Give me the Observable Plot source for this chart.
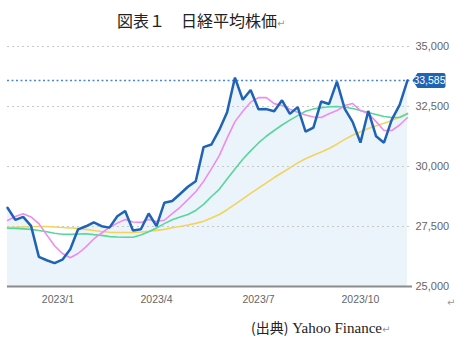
<!DOCTYPE html>
<html><head><meta charset="utf-8">
<script src="https://cdn.jsdelivr.net/npm/d3@7"></script>
<script src="https://cdn.jsdelivr.net/npm/@observablehq/plot@0.6"></script>
<style>
body{margin:0;background:#fff;width:461px;height:361px;position:relative;overflow:hidden}
#title{position:absolute;left:117px;top:11px;font:16px/18px "Noto Sans CJK JP";color:#222;white-space:nowrap}
.ret{color:#999;font-family:"DejaVu Sans";font-size:10px}
#chart{position:absolute;left:0;top:38px}
#ret2{position:absolute;left:447px;top:297px}
#cap{position:absolute;left:251px;top:318px;font:15px/18px "Liberation Serif","Noto Sans CJK JP";color:#222;white-space:nowrap}
#cap .cjk{font-family:"Noto Sans CJK JP";font-size:14px}
</style></head><body>
<div id="title">図表１　日経平均株価<span class="ret">↵</span></div>
<div id="chart"></div>
<span id="ret2" class="ret">↵</span>
<div id="cap"><span class="cjk">(出典)</span> Yahoo Finance<span class="ret">↵</span></div>
<script>
const dates = ["2022-11-25","2022-12-02","2022-12-09","2022-12-16","2022-12-23","2022-12-30",
"2023-01-06","2023-01-13","2023-01-20","2023-01-27","2023-02-03","2023-02-10","2023-02-17","2023-02-24",
"2023-03-03","2023-03-10","2023-03-17","2023-03-24","2023-03-31","2023-04-07","2023-04-14","2023-04-21","2023-04-28",
"2023-05-05","2023-05-12","2023-05-19","2023-05-26","2023-06-02","2023-06-09","2023-06-16","2023-06-23","2023-06-30",
"2023-07-07","2023-07-14","2023-07-21","2023-07-28","2023-08-04","2023-08-11","2023-08-18","2023-08-25",
"2023-09-01","2023-09-08","2023-09-15","2023-09-22","2023-09-29","2023-10-06","2023-10-13","2023-10-20","2023-10-27",
"2023-11-03","2023-11-10","2023-11-17"];
const close = [28283,27777,27901,27527,26235,26094,25973,26119,26553,27382,27509,27670,27513,27453,
27927,28143,27333,27385,28041,27518,28493,28564,28856,29157,29388,30808,30916,31524,32265,33706,32781,33189,
32388,32391,32304,32759,32192,32473,31450,31624,32710,32606,33533,32402,31858,30995,32315,31259,30991,
31950,32568,33585];
const maShort = [27750,27920,28030,27900,27620,27150,26700,26375,26200,26375,26650,26980,27230,27460,
27640,27790,27690,27670,27790,27710,27760,28040,28300,28620,28950,29380,29900,30450,31180,31870,32300,32680,
32870,32870,32620,32540,32390,32260,32150,32060,32040,32200,32330,32540,32625,32330,32210,31870,31500,
31500,31730,32040];
const maMid = [27430,27420,27400,27380,27330,27280,27220,27180,27170,27190,27200,27160,27130,27080,
27060,27050,27050,27150,27280,27440,27620,27780,27900,28000,28170,28420,28750,29050,29480,29900,30300,30650,
30980,31260,31500,31730,31930,32120,32300,32400,32450,32490,32500,32470,32420,32330,32250,32170,32080,
32040,32040,32200];
const maLong = [27460,27470,27480,27490,27500,27500,27480,27460,27440,27420,27380,27330,27290,27260,
27250,27250,27250,27270,27300,27340,27380,27450,27500,27560,27630,27720,27850,28000,28200,28420,28650,28880,
29100,29320,29540,29740,29940,30150,30320,30470,30600,30750,30930,31130,31300,31450,31580,31700,31800,
31920,32060,32220];
const xTickDates = ["2023-01-09","2023-04-07","2023-07-07","2023-10-06"];
const xTickLabels = ["2023/1","2023/4","2023/7","2023/10"];
const yTicks = [25000,27500,30000,32500,35000];
const yTickLabels = ["25,000","27,500","30,000","32,500","35,000"];

const rows = dates.map((d,i)=>({date:new Date(d), close:close[i], s:maShort[i], m:maMid[i], l:maLong[i]}));
const last = rows[rows.length-1];
const xt = xTickDates.map(d=>new Date(d));
const tag = {draw(ctx){ctx.moveTo(0,0);ctx.lineTo(5,-7.5);ctx.lineTo(31,-7.5);ctx.arcTo(33,-7.5,33,-5.5,2);ctx.lineTo(33,5.5);ctx.arcTo(33,7.5,31,7.5,2);ctx.lineTo(5,7.5);ctx.closePath();}};

const chart = Plot.plot({
  width:461, height:275, marginTop:8, marginBottom:27, marginLeft:7, marginRight:54,
  style:{fontFamily:"'Liberation Sans Narrow','Arial Narrow','Liberation Sans',sans-serif", color:"#666", background:"transparent"},
  x:{type:"utc", domain:[rows[0].date, last.date]},
  y:{domain:[25000,35000]},
  marks:[
    Plot.areaY(rows,{x:"date", y1:25000, y2:"close", fill:"#ebf3fb"}),
    Plot.ruleY([27500,30000,32500,35000],{stroke:"#c8c8c8", strokeDasharray:"2,3", insetRight:-5}),
    Plot.ruleY([25000],{stroke:"#8c8c8c", strokeWidth:2, insetRight:-5}),
    Plot.ruleY([last.close],{stroke:"#4a86d8", strokeWidth:1.5, strokeDasharray:"2,2.5", insetRight:-5}),
    Plot.lineY(rows,{x:"date", y:"l", stroke:"#f2d45c", strokeWidth:1.6}),
    Plot.lineY(rows,{x:"date", y:"m", stroke:"#58d69c", strokeWidth:1.6}),
    Plot.lineY(rows,{x:"date", y:"s", stroke:"#ee8cee", strokeWidth:1.6}),
    Plot.lineY(rows,{x:"date", y:"close", stroke:"#1f63b5", strokeWidth:2.5, strokeLinejoin:"miter"}),
    Plot.axisX(xt,{tickSize:0, tickPadding:9, fontSize:10.5, fill:"#666",
      tickFormat:d=>xTickLabels[xt.findIndex(t=>+t===+d)]}),
    Plot.axisY(yTicks,{anchor:"right", tickSize:0, tickPadding:8, fontSize:11, fill:"#666",
      tickFormat:d=>yTickLabels[yTicks.indexOf(d)]}),
    Plot.dot([last],{x:"date", y:"close", symbol:tag, dx:5, fill:"#1f63b5", stroke:"none", r:5}),
    Plot.text([last],{x:"date", y:"close", text:d=>d3.format(",")(d.close), dx:22, fill:"white", fontSize:10.5, textAnchor:"middle"})
  ]
});
document.getElementById("chart").appendChild(chart);
</script>
</body></html>
